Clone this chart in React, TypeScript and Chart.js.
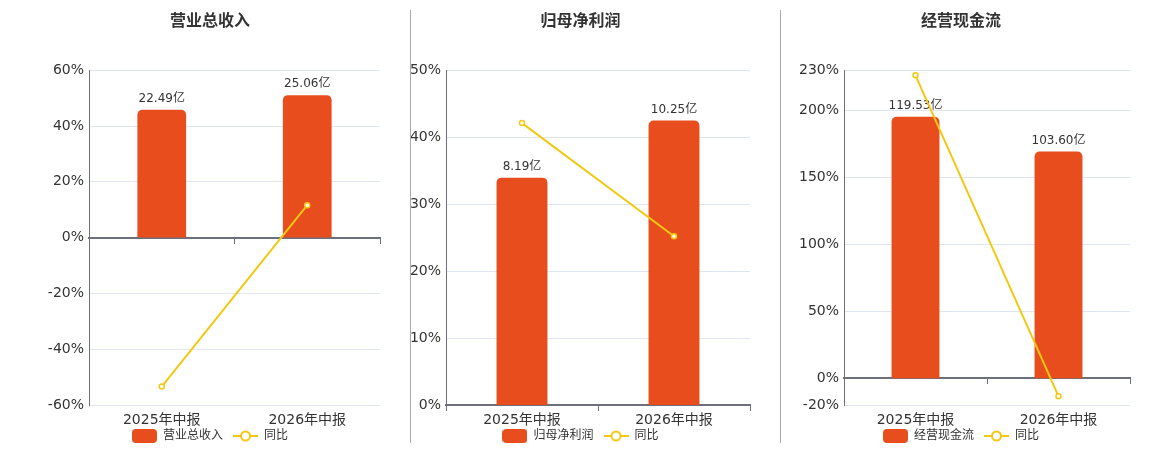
import React, { useEffect, useRef } from "react";
import { Chart, registerables } from "chart.js";

Chart.register(...registerables);
Chart.defaults.font.family = "'DejaVu Sans', 'Noto Sans CJK SC', sans-serif";

// ---------- data ----------
const categories = ["2025年中报", "2026年中报"];

const revenueTitle = "营业总收入";
const revenueValues = [22.49, 25.06];
const revenueYoY = [-53.4, 11.6];
const revenueTicks = [-60, -40, -20, 0, 20, 40, 60];

const profitTitle = "归母净利润";
const profitValues = [8.19, 10.25];
const profitYoY = [42.1, 25.2];
const profitTicks = [0, 10, 20, 30, 40, 50];

const cashTitle = "经营现金流";
const cashValues = [119.53, 103.6];
const cashYoY = [226.2, -13.4];
const cashTicks = [-20, 0, 50, 100, 150, 200, 230];

const yoyName = "同比";

// ---------- style ----------
const BAR_COLOR = "#E84D1E";
const LINE_COLOR = "#F3C812";
const AXIS_COLOR = "#6E7079";
const GRID_COLOR = "#E0E6F1";
const TEXT_COLOR = "#333333";
const FONT = "'DejaVu Sans', 'Noto Sans CJK SC', sans-serif";
const CANVAS_H = 460;

function makeBarIcon(): HTMLCanvasElement {
  const c = document.createElement("canvas");
  c.width = 25;
  c.height = 14;
  const ctx = c.getContext("2d")!;
  ctx.fillStyle = BAR_COLOR;
  const r = 4;
  ctx.beginPath();
  ctx.moveTo(r, 0);
  ctx.lineTo(25 - r, 0);
  ctx.quadraticCurveTo(25, 0, 25, r);
  ctx.lineTo(25, 14 - r);
  ctx.quadraticCurveTo(25, 14, 25 - r, 14);
  ctx.lineTo(r, 14);
  ctx.quadraticCurveTo(0, 14, 0, 14 - r);
  ctx.lineTo(0, r);
  ctx.quadraticCurveTo(0, 0, r, 0);
  ctx.closePath();
  ctx.fill();
  return c;
}

function makeLineIcon(): HTMLCanvasElement {
  const c = document.createElement("canvas");
  c.width = 25;
  c.height = 14;
  const ctx = c.getContext("2d")!;
  ctx.strokeStyle = LINE_COLOR;
  ctx.lineWidth = 2;
  ctx.beginPath();
  ctx.moveTo(0, 7);
  ctx.lineTo(25, 7);
  ctx.stroke();
  ctx.beginPath();
  ctx.arc(12.5, 7, 4.5, 0, Math.PI * 2);
  ctx.fillStyle = "#fff";
  ctx.fill();
  ctx.stroke();
  return c;
}

type PanelProps = {
  left: number;
  width: number;
  padL: number;
  yWidth: number;
  title: string;
  values: number[];
  yoy: number[];
  ticks: number[];
  barMin: number;
  barMax: number;
};

function Panel(p: PanelProps) {
  const ref = useRef<HTMLCanvasElement | null>(null);

  useEffect(() => {
    if (!ref.current) return;
    const barIcon = makeBarIcon();
    const lineIcon = makeLineIcon();

    const barLabels = {
      id: "barLabels",
      afterDatasetDraw(chart: any, args: any) {
        if (args.index !== 0) return;
        const ctx = chart.ctx;
        const vals = chart.data.datasets[0].data as number[];
        args.meta.data.forEach((el: any, i: number) => {
          ctx.save();
          ctx.font = `12px ${FONT}`;
          ctx.fillStyle = TEXT_COLOR;
          ctx.textAlign = "center";
          ctx.textBaseline = "middle";
          ctx.fillText(vals[i].toFixed(2) + "亿", el.x, el.y - 11);
          ctx.restore();
        });
      },
    };

    const chart = new Chart(ref.current, {
      type: "bar",
      data: {
        labels: categories,
        datasets: [
          {
            type: "bar",
            label: p.title,
            data: p.values,
            backgroundColor: BAR_COLOR,
            borderRadius: { topLeft: 5, topRight: 5, bottomLeft: 0, bottomRight: 0 },
            borderSkipped: "start",
            categoryPercentage: 0.335,
            barPercentage: 1,
            xAxisID: "x",
            yAxisID: "yb",
            order: 2,
          } as any,
          {
            type: "line",
            label: yoyName,
            data: p.yoy,
            borderColor: LINE_COLOR,
            borderWidth: 2,
            pointRadius: 2.5,
            pointBackgroundColor: "#ffffff",
            pointBorderColor: LINE_COLOR,
            pointBorderWidth: 1.5,
            xAxisID: "x",
            yAxisID: "y",
            order: 1,
          } as any,
        ],
      },
      options: {
        animation: false,
        responsive: true,
        maintainAspectRatio: false,
        layout: { padding: { top: 12, bottom: 8, left: p.padL, right: 30 } },
        plugins: {
          tooltip: { enabled: false },
          title: {
            display: true,
            text: p.title,
            color: TEXT_COLOR,
            font: { size: 16, weight: "bold" },
            padding: { top: 0, bottom: 39 },
          },
          legend: {
            position: "bottom",
            labels: {
              usePointStyle: true,
              pointStyleWidth: 25,
              padding: 10,
              color: TEXT_COLOR,
              font: { size: 12 },
              generateLabels: () => [
                {
                  text: p.title,
                  pointStyle: barIcon,
                  fillStyle: BAR_COLOR,
                  strokeStyle: BAR_COLOR,
                  lineWidth: 0,
                  hidden: false,
                  datasetIndex: 0,
                  fontColor: TEXT_COLOR,
                } as any,
                {
                  text: yoyName,
                  pointStyle: lineIcon,
                  fillStyle: "#fff",
                  strokeStyle: LINE_COLOR,
                  lineWidth: 0,
                  hidden: false,
                  datasetIndex: 1,
                  fontColor: TEXT_COLOR,
                } as any,
              ],
            },
          },
        },
        scales: {
          x: {
            type: "category",
            position: "bottom",
            offset: true,
            grid: { display: false, drawTicks: false, tickLength: 0 },
            border: { display: false },
            ticks: { color: TEXT_COLOR, font: { size: 14 }, padding: -23.5, maxRotation: 0, mirror: true },
            afterFit: (s: any) => {
              s.height = 15;
            },
          },
          x2: {
            type: "category",
            position: { y: 0 } as any,
            offset: true,
            z: 1,
            grid: {
              offset: true,
              drawOnChartArea: false,
              drawTicks: true,
              tickLength: 5,
              color: AXIS_COLOR,
              lineWidth: 1,
            },
            border: { display: true, color: AXIS_COLOR, width: 2 },
            ticks: { display: false },
          },
          y: {
            type: "linear",
            position: "left",
            min: p.ticks[0],
            max: p.ticks[p.ticks.length - 1],
            afterBuildTicks: (s: any) => {
              s.ticks = p.ticks.map((v) => ({ value: v }));
            },
            afterFit: (s: any) => {
              s.width = p.yWidth;
            },
            grid: { color: GRID_COLOR, drawTicks: false, tickLength: 0 },
            border: { display: true, color: AXIS_COLOR, width: 1 },
            ticks: {
              color: TEXT_COLOR,
              font: { size: 14 },
              padding: 5,
              callback: (v: any) => v + "%",
            },
          },
          yb: {
            type: "linear",
            display: false,
            min: p.barMin,
            max: p.barMax,
          },
        },
      } as any,
      plugins: [barLabels],
    });
    return () => chart.destroy();
  }, []);

  return (
    <div
      style={{
        position: "absolute",
        left: p.left,
        top: 0,
        width: p.width,
        height: CANVAS_H,
      }}
    >
      <canvas ref={ref} />
    </div>
  );
}

export default function App() {
  return (
    <div
      style={{
        position: "absolute",
        left: 0,
        top: 0,
        width: 1160,
        height: 450,
        overflow: "hidden",
        background: "#fff",
      }}
    >
      <Panel
        left={0}
        width={410}
        padL={40}
        yWidth={49}
        title={revenueTitle}
        values={revenueValues}
        yoy={revenueYoY}
        ticks={revenueTicks}
        barMin={-29.45}
        barMax={29.45}
      />
      <Panel
        left={411}
        width={369}
        padL={0}
        yWidth={35}
        title={profitTitle}
        values={profitValues}
        yoy={profitYoY}
        ticks={profitTicks}
        barMin={0}
        barMax={12.06}
      />
      <Panel
        left={781}
        width={379}
        padL={11}
        yWidth={52}
        title={cashTitle}
        values={cashValues}
        yoy={cashYoY}
        ticks={cashTicks}
        barMin={-12.24}
        barMax={140.8}
      />
      <div style={{ position: "absolute", left: 410, top: 10, width: 1, height: 433, background: "#aaaaaa" }} />
      <div style={{ position: "absolute", left: 780, top: 10, width: 1, height: 433, background: "#aaaaaa" }} />
    </div>
  );
}
